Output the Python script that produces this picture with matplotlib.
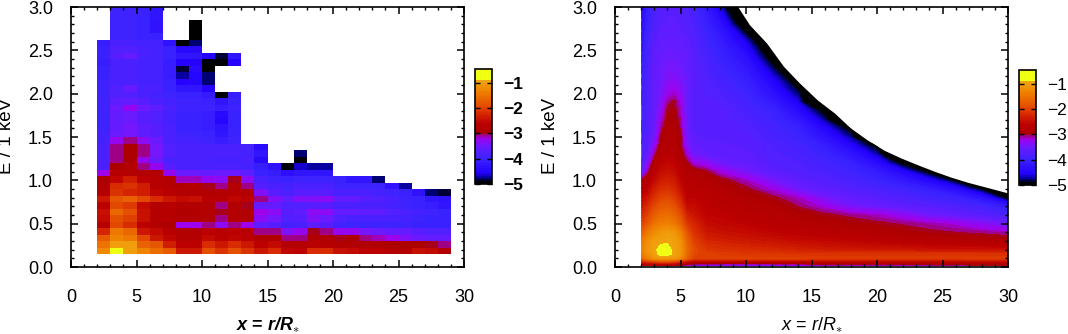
import numpy as np
import matplotlib
matplotlib.use("Agg")
import matplotlib.pyplot as plt
from matplotlib.colors import LinearSegmentedColormap, ListedColormap, Normalize
from matplotlib.patches import Polygon
from matplotlib.ticker import MultipleLocator

plt.rcParams['font.family'] = ['Liberation Sans', 'DejaVu Sans']
plt.rcParams['mathtext.fontset'] = 'custom'
plt.rcParams['mathtext.rm'] = 'Liberation Sans'
plt.rcParams['mathtext.it'] = 'Liberation Sans:italic'
plt.rcParams['mathtext.bf'] = 'Liberation Sans:bold'
plt.rcParams['mathtext.bfit'] = 'Liberation Sans:bold:italic'

n = np.nan
# Observed panel: rows listed from E = 3.0 downward, columns x = 2..29 (1 wide)
obs_x_edges = list(range(2, 30))
obs_rows = [
 [n,-3.95,-3.95,-4.05,-4.2,n,n,n,n,n,n,n,n,n,n,n,n,n,n,n,n,n,n,n,n,n,n],
 [n,-3.95,-3.95,-4.05,-4.2,n,n,n,n,n,n,n,n,n,n,n,n,n,n,n,n,n,n,n,n,n,n],
 [n,-3.95,-3.95,-4.05,-4.25,n,n,-5,n,n,n,n,n,n,n,n,n,n,n,n,n,n,n,n,n,n,n],
 [n,-3.95,-3.95,-4.05,-4.25,n,n,-5,n,n,n,n,n,n,n,n,n,n,n,n,n,n,n,n,n,n,n],
 [n,-3.95,-3.95,-4.0,-4.0,n,n,-5,n,n,n,n,n,n,n,n,n,n,n,n,n,n,n,n,n,n,n],
 [-4.1,-3.85,-3.85,-3.9,-3.9,-4.3,-5.0,-4.8,n,n,n,n,n,n,n,n,n,n,n,n,n,n,n,n,n,n,n],
 [-4.05,-3.75,-3.75,-3.85,-3.9,-4.0,-4.4,-4.4,n,n,n,n,n,n,n,n,n,n,n,n,n,n,n,n,n,n,n],
 [-4.0,-3.7,-3.6,-3.85,-3.9,-4.0,-4.2,-4.2,-4.5,-4.85,-4.2,n,n,n,n,n,n,n,n,n,n,n,n,n,n,n,n],
 [-4.1,-3.85,-3.85,-3.9,-3.9,-4.1,-4.5,-4.5,-4.9,-5.0,-4.5,n,n,n,n,n,n,n,n,n,n,n,n,n,n,n,n],
 [-4.05,-3.85,-3.85,-3.9,-3.9,-4.1,-4.85,-4.4,-5.0,n,n,n,n,n,n,n,n,n,n,n,n,n,n,n,n,n,n],
 [-4.05,-3.85,-3.85,-3.9,-3.9,-4.1,-4.7,-4.45,-4.8,n,n,n,n,n,n,n,n,n,n,n,n,n,n,n,n,n,n],
 [-3.95,-3.85,-3.85,-3.9,-3.9,-4.05,-4.5,-4.45,-4.8,n,n,n,n,n,n,n,n,n,n,n,n,n,n,n,n,n,n],
 [-3.95,-3.75,-3.6,-3.8,-3.85,-4.0,-4.2,-4.2,-4.5,n,n,n,n,n,n,n,n,n,n,n,n,n,n,n,n,n,n],
 [-3.95,-3.75,-3.75,-3.85,-3.9,-3.95,-4.0,-4.05,-4.15,-4.9,-4.1,n,n,n,n,n,n,n,n,n,n,n,n,n,n,n,n],
 [-3.95,-3.65,-3.55,-3.7,-3.8,-3.9,-3.95,-3.95,-4.0,-4.2,-4.0,n,n,n,n,n,n,n,n,n,n,n,n,n,n,n,n],
 [-3.95,-3.5,-3.25,-3.5,-3.65,-3.85,-3.95,-3.95,-3.95,-4.1,-3.95,n,n,n,n,n,n,n,n,n,n,n,n,n,n,n,n],
 [-3.95,-3.55,-3.5,-3.7,-3.75,-3.9,-4.0,-4.0,-4.1,-4.4,-4.05,n,n,n,n,n,n,n,n,n,n,n,n,n,n,n,n],
 [-3.95,-3.6,-3.5,-3.7,-3.75,-3.9,-4.0,-4.0,-4.1,-4.45,-4.05,n,n,n,n,n,n,n,n,n,n,n,n,n,n,n,n],
 [-3.95,-3.55,-3.45,-3.65,-3.7,-3.85,-4.0,-4.0,-4.1,-4.3,-4.05,n,n,n,n,n,n,n,n,n,n,n,n,n,n,n,n],
 [-3.9,-3.5,-3.45,-3.65,-3.7,-3.85,-3.95,-3.95,-4.0,-4.2,-4.05,n,n,n,n,n,n,n,n,n,n,n,n,n,n,n,n],
 [-3.9,-3.25,-3.1,-3.3,-3.5,-3.8,-3.9,-3.9,-3.95,-4.1,-3.95,n,n,n,n,n,n,n,n,n,n,n,n,n,n,n,n],
 [-3.85,-3.05,-2.95,-3.05,-3.45,-3.75,-3.85,-3.85,-3.85,-3.85,-3.85,-3.9,-4.4,n,n,n,n,n,n,n,n,n,n,n,n,n,n],
 [-3.85,-3.05,-2.95,-3.1,-3.45,-3.75,-3.8,-3.8,-3.85,-3.85,-3.85,-3.9,-4.2,n,n,-4.75,n,n,n,n,n,n,n,n,n,n,n],
 [-3.85,-3.05,-2.95,-3.25,-3.5,-3.8,-3.85,-3.85,-3.85,-3.9,-3.9,-3.85,-4.4,n,n,-4.95,n,n,n,n,n,n,n,n,n,n,n],
 [-3.8,-2.95,-2.85,-3.05,-3.25,-3.7,-3.8,-3.8,-3.85,-3.85,-3.85,-3.9,-4.1,-4.3,-5.0,-4.65,-4.7,-4.7,n,n,n,n,n,n,n,n,n],
 [-3.2,-2.75,-2.8,-2.8,-2.85,-3.25,-3.5,-3.5,-3.55,-3.5,-3.5,-3.65,-4.0,-4.1,-4.35,-4.2,-4.2,-4.2,n,n,n,n,n,n,n,n,n],
 [-2.95,-2.55,-2.3,-2.6,-2.75,-2.85,-3.15,-3.15,-3.25,-3.35,-3.0,-3.3,-3.85,-3.95,-4.0,-3.95,-3.95,-3.95,-4.0,-4.2,-4.2,-4.8,n,n,n,n,n],
 [-2.85,-2.2,-2.1,-2.3,-2.75,-2.85,-2.9,-2.85,-3.03,-3.1,-2.8,-3.05,-3.75,-3.85,-3.9,-3.85,-3.85,-3.85,-3.95,-3.95,-3.95,-3.95,-4.3,-4.7,n,n,n],
 [-2.8,-2.1,-2.25,-2.3,-2.55,-2.7,-2.8,-2.8,-2.8,-2.85,-2.75,-2.85,-3.4,-3.7,-3.85,-3.7,-3.7,-3.7,-3.8,-3.85,-3.85,-3.9,-3.95,-4.05,-4.3,-4.75,-4.85],
 [-2.35,-1.8,-1.7,-1.95,-2.2,-2.4,-2.5,-2.45,-2.7,-2.75,-2.55,-2.6,-3.1,-3.4,-3.6,-3.4,-3.4,-3.3,-3.6,-3.6,-3.7,-3.75,-3.85,-3.95,-4.05,-4.2,-4.3],
 [-2.6,-1.95,-2.05,-2.5,-2.8,-2.7,-2.85,-2.85,-2.8,-3.05,-2.8,-3.03,-3.6,-3.6,-3.75,-3.75,-3.7,-3.7,-3.8,-3.8,-3.85,-3.85,-3.9,-3.95,-4.0,-4.1,-4.2],
 [-2.45,-1.65,-1.85,-2.45,-2.75,-2.75,-2.9,-2.9,-2.85,-2.98,-2.8,-2.85,-3.2,-3.3,-3.7,-3.65,-3.3,-3.35,-3.6,-3.6,-3.65,-3.65,-3.75,-3.85,-3.9,-3.95,-4.0],
 [-2.5,-1.85,-2.0,-2.45,-2.75,-2.75,-2.85,-2.85,-2.8,-3.05,-2.75,-2.8,-3.3,-3.45,-3.75,-3.7,-3.4,-3.5,-3.75,-3.8,-3.8,-3.85,-3.85,-3.9,-3.95,-4.0,-4.0],
 [-2.75,-1.95,-2.2,-2.65,-2.85,-2.95,-3.2,-3.2,-3.05,-3.3,-3.05,-3.2,-3.65,-3.7,-3.9,-3.8,-3.65,-3.7,-3.9,-3.95,-3.95,-3.95,-3.95,-3.95,-4.0,-4.05,-4.05],
 [-2.25,-1.4,-1.65,-2.4,-2.5,-2.7,-2.85,-2.85,-2.65,-2.7,-2.65,-2.7,-3.05,-3.05,-3.4,-3.25,-3.0,-3.05,-3.25,-3.25,-3.45,-3.5,-3.55,-3.6,-3.7,-3.75,-3.75],
 [-1.75,-1.3,-1.4,-1.95,-2.35,-2.55,-2.8,-2.85,-2.5,-2.65,-2.55,-2.6,-2.85,-2.9,-3.05,-3.05,-2.9,-2.9,-3.0,-2.92,-3.1,-3.15,-3.22,-3.4,-3.5,-3.55,-3.55],
 [-1.5,-1.0,-1.0,-1.7,-1.8,-2.3,-2.6,-2.65,-2.2,-2.4,-2.2,-2.35,-2.65,-2.5,-2.75,-2.75,-2.7,-2.75,-2.85,-2.85,-2.9,-2.9,-2.92,-2.95,-2.95,-3.03,-3.1],
 [-1.25,-0.6,-1.0,-1.3,-1.55,-1.75,-2.35,-2.4,-1.9,-2.1,-1.9,-2.1,-2.35,-2.2,-2.55,-2.6,-2.2,-2.2,-2.45,-2.5,-2.6,-2.6,-2.8,-2.85,-2.45,-2.5,-2.85],
]
obs_E_low = 0.15
obs_E_step = 0.075

# Model panel: values read at these x columns and E rows (bottom to top)
mod_x = [2,2.5,3,3.5,4,4.5,5,5.5,6,7,8,10,12,14,16,18,20,22,24,26,28,30]
mod_E = [0.02,0.05,0.1,0.15,0.2,0.3,0.4,0.5,0.6,0.7,0.8,0.9,1.0,1.1,1.2,1.3,1.4,1.5,1.6,1.7,1.8,1.9,2.0,2.2,2.4,2.6,2.8,3.0]
mod_rows = [
 [-3.1,-2.9,-2.9,-2.9,-2.9,-2.9,-3.0,-3.2,-3.3,-3.35,-3.4,-3.4,-3.35,-3.25,-3.2,-3.2,-3.2,-3.2,-3.15,-3.1,-3.05,-3.05],
 [-2.5,-2.4,-2.3,-2.2,-2.2,-2.3,-2.5,-2.7,-2.8,-2.8,-2.8,-2.85,-2.85,-2.85,-2.8,-2.8,-2.75,-2.75,-2.75,-2.75,-2.7,-2.7],
 [-1.7,-1.4,-1.15,-1.05,-1.05,-1.1,-1.3,-1.7,-2.0,-2.0,-2.0,-2.0,-2.0,-2.02,-2.05,-2.05,-2.05,-2.05,-2.05,-2.05,-2.05,-2.05],
 [-1.5,-1.2,-1.0,-0.8,-0.8,-0.95,-1.1,-1.65,-1.95,-2.0,-2.05,-2.1,-2.1,-2.15,-2.15,-2.15,-2.15,-2.15,-2.15,-2.15,-2.15,-2.15],
 [-1.4,-1.1,-0.95,-0.8,-0.8,-0.95,-1.1,-1.6,-1.9,-2.1,-2.15,-2.2,-2.25,-2.3,-2.35,-2.38,-2.4,-2.42,-2.45,-2.45,-2.45,-2.5],
 [-1.5,-1.2,-1.0,-0.95,-0.93,-0.97,-1.15,-1.7,-2.0,-2.27,-2.3,-2.38,-2.43,-2.5,-2.55,-2.6,-2.65,-2.7,-2.75,-2.8,-2.85,-2.9],
 [-1.75,-1.45,-1.25,-1.1,-1.03,-1.1,-1.35,-1.85,-2.15,-2.4,-2.45,-2.5,-2.6,-2.67,-2.75,-2.8,-2.85,-2.92,-3.0,-3.04,-3.08,-3.13],
 [-2.05,-1.8,-1.5,-1.4,-1.35,-1.45,-1.7,-2.1,-2.25,-2.5,-2.55,-2.62,-2.7,-2.8,-2.87,-2.93,-3.0,-3.06,-3.12,-3.2,-3.35,-3.5],
 [-2.25,-2.0,-1.75,-1.6,-1.55,-1.65,-1.9,-2.3,-2.4,-2.6,-2.62,-2.7,-2.8,-2.9,-3.0,-3.08,-3.15,-3.3,-3.5,-3.6,-3.7,-3.85],
 [-2.45,-2.2,-1.95,-1.8,-1.75,-1.85,-2.1,-2.5,-2.5,-2.65,-2.7,-2.8,-2.87,-3.05,-3.2,-3.45,-3.55,-3.65,-3.7,-3.8,-3.9,-4.15],
 [-2.6,-2.4,-2.15,-2.0,-1.95,-2.05,-2.3,-2.65,-2.6,-2.7,-2.75,-2.88,-3.0,-3.15,-3.45,-3.6,-3.7,-3.8,-3.9,-4.0,-4.3,-5.0],
 [-2.8,-2.6,-2.35,-2.2,-2.15,-2.25,-2.45,-2.7,-2.7,-2.75,-2.85,-3.0,-3.2,-3.5,-3.65,-3.75,-3.85,-3.95,-4.1,-4.4,-4.95,-6],
 [-3.05,-2.8,-2.55,-2.35,-2.3,-2.35,-2.6,-2.75,-2.8,-2.85,-2.95,-3.15,-3.45,-3.65,-3.75,-3.85,-4.0,-4.2,-4.5,-4.95,-6,-6],
 [-3.7,-3.1,-2.7,-2.5,-2.45,-2.5,-2.7,-2.85,-2.9,-3.0,-3.2,-3.45,-3.65,-3.75,-3.85,-3.95,-4.15,-4.5,-5.0,-6,-6,-6],
 [-3.8,-3.4,-2.85,-2.65,-2.55,-2.6,-2.8,-3.0,-3.2,-3.3,-3.5,-3.6,-3.75,-3.8,-3.9,-4.05,-4.4,-5.0,-6,-6,-6,-6],
 [-3.85,-3.6,-3.1,-2.8,-2.7,-2.72,-2.9,-3.2,-3.5,-3.6,-3.65,-3.65,-3.78,-3.85,-4.0,-4.25,-4.7,-6,-6,-6,-6,-6],
 [-3.85,-3.7,-3.3,-2.92,-2.8,-2.82,-3.0,-3.4,-3.6,-3.65,-3.65,-3.7,-3.8,-3.9,-4.1,-4.5,-5.0,-6,-6,-6,-6,-6],
 [-3.9,-3.7,-3.5,-3.0,-2.85,-2.87,-2.98,-3.5,-3.65,-3.7,-3.7,-3.72,-3.85,-3.97,-4.3,-4.75,-6,-6,-6,-6,-6,-6],
 [-3.95,-3.75,-3.55,-3.1,-2.9,-2.9,-3.05,-3.55,-3.7,-3.7,-3.7,-3.75,-3.9,-4.05,-4.5,-5.0,-6,-6,-6,-6,-6,-6],
 [-3.95,-3.75,-3.6,-3.2,-2.95,-2.93,-3.1,-3.55,-3.7,-3.7,-3.7,-3.8,-3.95,-4.2,-4.75,-6,-6,-6,-6,-6,-6,-6],
 [-3.95,-3.8,-3.6,-3.3,-3.0,-2.97,-3.15,-3.55,-3.7,-3.7,-3.7,-3.85,-4.0,-4.4,-5.0,-6,-6,-6,-6,-6,-6,-6],
 [-4.0,-3.8,-3.6,-3.4,-3.08,-3.0,-3.2,-3.55,-3.7,-3.7,-3.75,-3.9,-4.15,-4.6,-6,-6,-6,-6,-6,-6,-6,-6],
 [-4.0,-3.8,-3.6,-3.45,-3.25,-3.15,-3.3,-3.55,-3.7,-3.75,-3.8,-3.95,-4.3,-4.8,-6,-6,-6,-6,-6,-6,-6,-6],
 [-4.1,-3.8,-3.6,-3.5,-3.4,-3.4,-3.45,-3.55,-3.7,-3.8,-3.9,-4.1,-4.6,-5.2,-6,-6,-6,-6,-6,-6,-6,-6],
 [-4.2,-3.85,-3.65,-3.55,-3.5,-3.5,-3.55,-3.6,-3.7,-3.85,-4.0,-4.3,-5.0,-6,-6,-6,-6,-6,-6,-6,-6,-6],
 [-4.3,-3.9,-3.7,-3.6,-3.6,-3.6,-3.6,-3.65,-3.75,-3.95,-4.1,-4.6,-5.5,-6,-6,-6,-6,-6,-6,-6,-6,-6],
 [-4.4,-4.0,-3.8,-3.7,-3.65,-3.65,-3.7,-3.75,-3.8,-4.05,-4.3,-5.2,-6,-6,-6,-6,-6,-6,-6,-6,-6,-6],
 [-4.5,-4.1,-3.85,-3.75,-3.7,-3.7,-3.75,-3.8,-3.85,-4.2,-4.6,-6,-6,-6,-6,-6,-6,-6,-6,-6,-6,-6],
]
# white boundary of the model map
edge_x = [9.4,10.3,11.6,12.9,14.1,15.5,16.8,18,19.3,20.6,21.9,23.2,24.4,25.7,27,28.5,30]
edge_E = [3.0,2.79,2.58,2.31,2.12,1.92,1.77,1.6,1.46,1.34,1.25,1.17,1.10,1.03,.97,.91,.85]

cb_ticks = [-1,-2,-3,-4,-5]
x_ticks = [0,5,10,15,20,25,30]
VMIN, VMAX = -5.0, -0.45

nodes = [(-5.0,(0,0,0)),(-4.93,(0,0,0)),(-4.8,(0,0,130)),(-4.6,(35,0,255)),(-4.0,(60,35,255)),
         (-3.5,(110,25,255)),(-3.2,(160,0,235)),(-3.08,(160,0,140)),(-3.0,(170,0,0)),(-2.6,(190,0,0)),
         (-2.2,(215,40,0)),(-1.8,(230,85,0)),(-1.3,(240,130,0)),(-0.87,(240,165,15)),(-0.85,(240,255,20)),(-0.45,(240,255,20))]
base = LinearSegmentedColormap.from_list('xray', [((v-VMIN)/(VMAX-VMIN), tuple(c/255 for c in rgb)) for v,rgb in nodes], N=512)
cmap = ListedColormap(base(np.linspace(0,1,72)))
cmap.set_under('black'); cmap.set_over((240/255,1,20/255))
norm = Normalize(VMIN, VMAX)

W, H = 1068, 334
fig = plt.figure(figsize=(W/100, H/100), dpi=100)
def rect(x0, y0, x1, y1):
    return [x0/W, 1-y1/H, (x1-x0)/W, (y1-y0)/H]

ax1 = fig.add_axes(rect(71, 7, 464, 267))
ax2 = fig.add_axes(rect(615, 7, 1008, 267))
cax1 = fig.add_axes(rect(475, 69, 492, 184))
cax2 = fig.add_axes(rect(1019, 70, 1036, 185))

Z = np.array(obs_rows)[::-1]
Ey = obs_E_low + obs_E_step*np.arange(Z.shape[0]+1)
m1 = ax1.pcolormesh(obs_x_edges, Ey, Z, cmap=cmap, norm=norm, shading='flat', linewidth=0, rasterized=True)

levels = np.linspace(VMIN, VMAX, 73)
m2 = ax2.contourf(mod_x, mod_E, np.array(mod_rows), levels=levels, cmap=cmap, norm=norm, extend='both')
clip = Polygon(list(zip([2]+edge_x+[30,2],[3.0]+edge_E+[0,0])), closed=True, transform=ax2.transData)
m2.set_clip_path(clip)

for ax, bold in ((ax1, True), (ax2, False)):
    ax.set_xlim(0, 30); ax.set_ylim(0, 3)
    ax.set_xticks(x_ticks)
    ax.xaxis.set_minor_locator(MultipleLocator(1))
    ax.yaxis.set_major_locator(MultipleLocator(0.5))
    ax.yaxis.set_minor_locator(MultipleLocator(0.1))
    ax.tick_params(which='major', direction='in', top=True, right=True, length=5, width=1.1, labelsize=13)
    ax.tick_params(which='minor', direction='in', top=True, right=True, length=2.5, width=1.0)
    ax.tick_params(axis='x', which='major', pad=15.5)
    ax.tick_params(axis='y', which='major', pad=13)
    for s in ax.spines.values():
        s.set_linewidth(1.2)
    ax.set_ylabel('E / 1 keV', fontsize=13.5)
    ax.yaxis.set_label_coords(-0.1425, 0.505)
    if bold:
        ax.set_xlabel(r'$\mathbfit{x}$ = $\mathbfit{r/R}_{\ast}$', fontsize=13, fontweight='bold')
    else:
        ax.set_xlabel(r'$x$ = $r/R_{\ast}$', fontsize=13)
    ax.xaxis.set_label_coords(0.5, -0.185)
    ax.set_axisbelow(False)

for cax, bold in ((cax1, True), (cax2, False)):
    cb = fig.colorbar(m1, cax=cax, ticks=cb_ticks)
    cb.ax.set_yticklabels(['\u22121','\u22122','\u22123','\u22124','\u22125'], fontsize=12.5,
                          fontweight='bold' if bold else 'normal')
    cb.ax.tick_params(direction='in', left=True, right=True, length=3.5, width=1.0, pad=8)
    cb.outline.set_linewidth(1.2)

fig.savefig('out.png', dpi=100)
